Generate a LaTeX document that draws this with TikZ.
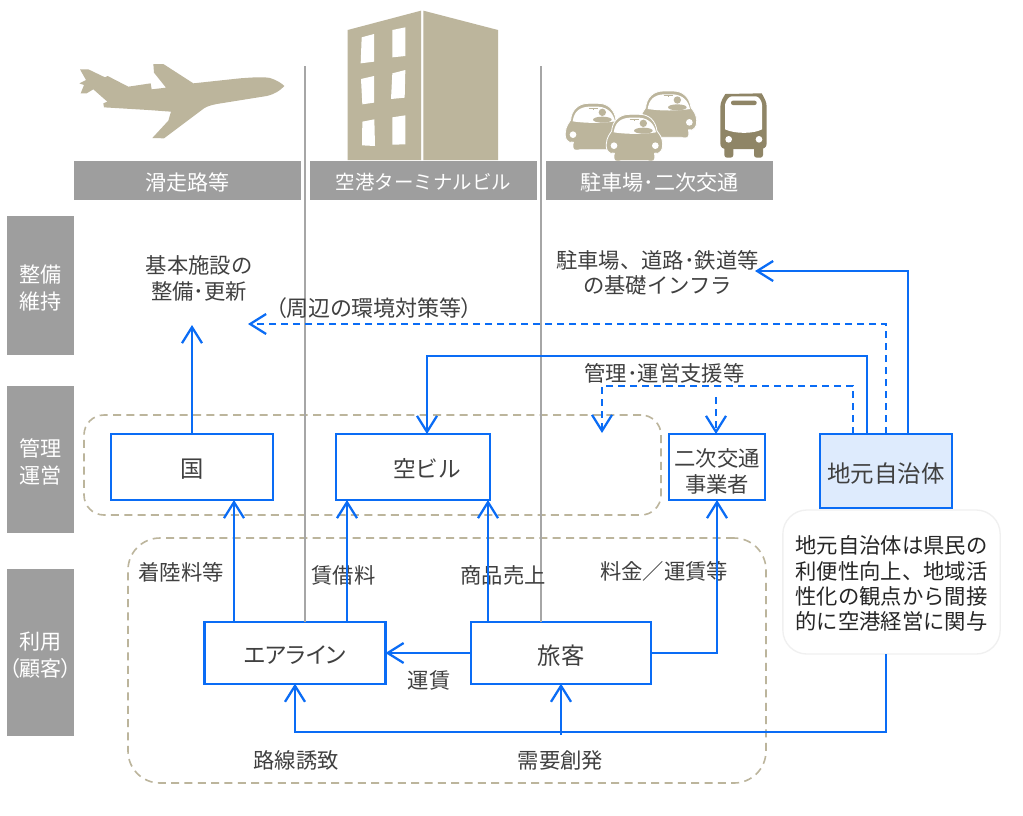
\documentclass[tikz,border=0pt]{standalone}
\usepackage{fontspec}
\usetikzlibrary{arrows.meta}
\setmainfont{Noto Sans CJK JP}
\newfontfamily\jpp[RawFeature={+palt}]{Noto Sans CJK JP}
\definecolor{tan}{HTML}{BCB59C}
\definecolor{busc}{HTML}{8F8566}
\definecolor{barc}{HTML}{9E9E9E}
\definecolor{linec}{HTML}{A6A6A6}
\definecolor{bluec}{HTML}{0A6CF5}
\definecolor{txt}{HTML}{404040}
\definecolor{paleb}{HTML}{DEEBFD}
\definecolor{calloutb}{HTML}{F0F0F0}
\newcommand{\fs}[1]{\fontsize{#1}{#1}\selectfont}
\newcommand{\ml}[2][1.5pt]{\raisebox{-#1}[\height][\depth]{\begin{tabular}{@{}c@{}}#2\end{tabular}}}
\tikzset{
  every node/.style={inner sep=0pt,outer sep=0pt,text=txt,font=\fs{16pt},align=center},
  bar/.style={fill=barc,text=white,font=\fs{15.8pt}},
  box/.style={draw=bluec,line width=1.7pt,fill=white},
  grp/.style={draw=tan,line width=1.2pt,dash pattern=on 6pt off 4pt},
  conn/.style={draw=bluec,line width=1.7pt},
  arr/.style={conn,-{Straight Barb[length=12pt,width=15pt,line width=1.7pt]}},
  darr/.style={arr,dash pattern=on 5.5pt off 3.5pt},
  dconn/.style={conn,dash pattern=on 5.5pt off 3.5pt},
  divider/.style={draw=linec,line width=1.5pt}
}
% car drawn in zoomed units, origin at roof centre
\newcommand{\carshape}[2]{%
\begin{scope}[shift={(#1,#2)}]
 \filldraw[tan,draw=white,line width=.6pt]
   (-58,139) -- (-58,117) .. controls (-60,116) and (-70,116) .. (-71,117)
   .. controls (-84,110) and (-85,100) .. (-84,88)
   .. controls (-83,68) and (-72,57) .. (-68,50)
   .. controls (-66,20) and (-45,0) .. (-15,0) -- (15,0)
   .. controls (45,0) and (64,20) .. (68,50)
   .. controls (76,60) and (84,70) .. (85,88)
   .. controls (85,100) and (84,110) .. (71,117)
   .. controls (70,116) and (60,116) .. (57,117)
   -- (57,139) -- (-58,139) -- cycle;
 \fill[tan] (-58,110) rectangle (58,128);
 \fill[tan,rounded corners=2pt] (-60,115) rectangle (-38,139);
 \fill[tan,rounded corners=2pt] (38,115) rectangle (60,139);
 \fill[white] (-62,54) .. controls (-58,25) and (-42,12) .. (-15,10) -- (15,10)
   .. controls (44,12) and (60,30) .. (65,54)
   .. controls (30,60) and (-25,60) .. (-62,54) -- cycle;
 \fill[tan] (27,27) circle (11);
 \fill[tan] (27,49) ellipse (28 and 9);
 \draw[tan,line width=.5pt] (-14,14) -- (14,14) (0,14) -- (0,19);
 \fill[white] (-61,94) circle (10);
 \fill[white] (63,94) circle (10);
\end{scope}}
\begin{document}
\begin{tikzpicture}[x=.75pt,y=-.75pt]
\useasboundingbox (0,0) rectangle (1023,815);
\fill[white] (0,0) rectangle (1023,815);

% airplane
\begin{scope}[shift={(60,0)},x=.25pt,y=-.25pt]
\fill[tan] (60,208) -- (85,208) -- (135,232) -- (143,228) -- (205,260) -- (272,250) -- (275,268) -- (318,263)
 -- (282,218) -- (280,192) -- (310,192) -- (400,250) -- (540,235)
 .. controls (580,232) and (610,230) .. (630,234) .. controls (650,240) and (665,250) .. (673,258)
 .. controls (660,272) and (645,282) .. (620,288) -- (470,312) .. controls (450,316) and (440,320) .. (432,325)
 -- (312,415) -- (277,414) -- (325,362) -- (333,335) -- (265,330) -- (132,322) -- (130,310) -- (142,305)
 -- (100,268) -- (80,280) -- (62,280) -- (72,255) -- (58,250) -- (78,240) -- cycle;
\end{scope}

% building
\begin{scope}[shift={(60,0)},x=.25pt,y=-.25pt]
\fill[tan] (863,90) -- (1083,32) -- (1083,480) -- (863,480) -- cycle;
\fill[tan] (1090,32) -- (1314,90) -- (1314,480) -- (1090,480) -- cycle;
\fill[white] (905,112) -- (942,102) -- (942,185) -- (902,190) -- cycle;
\fill[white] (997,90) -- (1036,82) -- (1036,168) -- (997,172) -- cycle;
\fill[white] (903,237) -- (942,228) -- (942,308) -- (907,313) -- cycle;
\fill[white] (997,220) -- (1036,210) -- (1034,293) -- (993,297) -- cycle;
\fill[white] (907,365) -- (943,358) -- (945,438) -- (906,436) -- cycle;
\fill[white] (997,352) -- (1036,346) -- (1036,433) -- (997,434) -- cycle;
\end{scope}

% cars and bus
\begin{scope}[shift={(540,70)},x=.25pt,y=-.25pt]
\carshape{385}{63}
\carshape{160}{100}
\carshape{283}{133}
\fill[busc,rounded corners=2pt] (553,225) rectangle (580,263);
\fill[busc,rounded corners=2pt] (642,225) rectangle (669,263);
\fill[busc] (541,110) .. controls (541,95) and (550,82) .. (556,72) -- (665,70)
 .. controls (672,82) and (680,95) .. (680,110) -- (680,220)
 .. controls (680,232) and (672,237) .. (660,237) -- (560,237)
 .. controls (548,237) and (541,232) .. (541,220) -- cycle;
\fill[white] (555,105) .. controls (556,95) and (565,80) .. (575,79) -- (648,79)
 .. controls (658,80) and (666,95) .. (666,105) -- (666,178)
 .. controls (640,192) and (585,192) .. (555,178) -- cycle;
\fill[busc,rounded corners=1.5pt] (573,92) rectangle (650,105);
\fill[white] (566,208) circle (10);
\fill[white] (657,208) circle (10);
\end{scope}

% groups
\node[grp,rounded corners=15pt,minimum width=432.75pt,minimum height=75pt] (grpmid) at (372.5,465) {};
\node[grp,rounded corners=24pt,minimum width=478.5pt,minimum height=183.75pt] (grpuse) at (447,660.5) {};

% boxes that the dividers stop at
\node[box,font=\fs{17pt}] (airline) at (295,653) [minimum width=135.75pt,minimum height=46pt] {\ml[4pt]{\jpp エアライン}};
\node[box,font=\fs{17.5pt}] (ryokaku) at (561,653) [minimum width=135pt,minimum height=46pt] {\ml[4pt]{旅客}};
\coordinate (topa) at (305,66);
\coordinate (topb) at (541,66);
\draw[divider] (topa) -- (topa |- airline.north);
\draw[divider] (topb) -- (topb |- ryokaku.north);

% headers
\node[bar,minimum width=170.25pt,minimum height=29.25pt] (h1) at (187.5,180.5) {\ml[3pt]{滑走路等}};
\node[bar,minimum width=170.25pt,minimum height=29.25pt,font=\fs{14.6pt}] (h2) at (423.5,180.5) {\ml[3pt]{空港ターミナルビル}};
\node[bar,minimum width=170.25pt,minimum height=29.25pt] (h3) at (659.5,180.5) {\ml[3pt]{駐車場･二次交通}};

% left bars
\node[bar,minimum width=50.25pt,minimum height=104.25pt] (l1) at (40.5,285.5) {\ml[3.6pt]{整備\\[2.2pt]維持}};
\node[bar,minimum width=50.25pt,minimum height=110.25pt] (l2) at (40.5,459.5) {\ml[3.6pt]{管理\\[2.2pt]運営}};
\node[bar,minimum width=50.25pt,minimum height=125.25pt] (l3) at (40.5,652.5) {\ml[3.6pt]{利用\\[2.2pt]{\jpp （顧客）}}};

% boxes
\node[box,minimum width=121.5pt,minimum height=49.5pt,font=\fs{17.5pt}] (kuni) at (192,467) {\ml[3.75pt]{国}};
\node[box,minimum width=115.5pt,minimum height=49.5pt,font=\fs{17pt}] (kubiru) at (413,467) {\ml[3pt]{\hspace*{21pt}空ビル}};
\node[box,minimum width=72pt,minimum height=49.5pt] (niji) at (717,467) {\ml[5.2pt]{二次交通\\[1pt]事業者}};
\node[box,fill=paleb,minimum width=99pt,minimum height=55.5pt,font=\fs{17.6pt}] (jimoto) at (886,471) {\ml[3.5pt]{地元自治体}};
\node[draw=calloutb,fill=white,line width=1pt,rounded corners=18pt,minimum width=163pt,minimum height=108pt,text=black!85] (callout) at (891.5,582)
 {\ml[3pt]{地元自治体は県民の\\[.7pt]利便性向上、地域活\\[.7pt]性化の観点から間接\\[.7pt]的に空港経営に関与}};

% free labels
\node (kihon) at (199,278) {\ml[1.9pt]{基本施設の\\[1pt]整備･更新}};
\node[font=\fs{16.5pt}] (shuhen) at (374,308) {\jpp （周辺の環境対策等）};
\node (infra) at (657.5,272.5) {\ml[2.1pt]{駐車場、道路･鉄道等\\[1pt]の基礎インフラ}};
\node (kanri) at (664.5,373) {管理･運営支援等};
\node (l_chaku) at (181,572) {着陸料等};
\node (l_chin) at (343.5,575) {賃借料};
\node (l_sho) at (503,575) {商品売上};
\node (l_ryo) at (664,571) {料金／運賃等};
\node (l_un) at (429,680.5) {運賃};
\node (l_ro) at (296,760) {路線誘致};
\node (l_ju) at (560.5,760) {需要創発};

% free ends
\coordinate (kihonEnd) at (192,325);
\coordinate (infraEnd) at (755,271);
\coordinate (shuhenEnd) at (248,324);
\coordinate (trunk) at (561,735);
\coordinate (dashEnd) at (602,433);
\coordinate (dashStart) at (716,397);

% connectors
\draw[arr] (kuni.north) -- (kihonEnd);
\draw[arr] (234,0 |- airline.north) -- (234,0 |- kuni.south);
\draw[arr] (347,0 |- airline.north) -- (347,0 |- kubiru.south);
\draw[arr] (488,0 |- ryokaku.north) -- (488,0 |- kubiru.south);
\draw[arr] (ryokaku.east) -- (niji.south |- ryokaku.east) -- (niji.south);
\draw[arr] (ryokaku.west) -- (airline.east);
\draw[arr] (908,0 |- jimoto.north) |- (infraEnd);
\draw[darr] (886,0 |- jimoto.north) |- (shuhenEnd);
\draw[arr] (867,0 |- jimoto.north) -- (867,356) -- (427,356) -- (427,0 |- kubiru.north);
\draw[darr] (853,0 |- jimoto.north) -- (853,386) -- (602,386) -- (dashEnd);
\draw[darr] (dashStart) -- (716,0 |- niji.north);
\draw[arr] (886,0 |- callout.south) -- (886,732) -- (airline.south |- 0,732) -- (airline.south);
\draw[arr] (trunk) -- (ryokaku.south);
\end{tikzpicture}
\end{document}
